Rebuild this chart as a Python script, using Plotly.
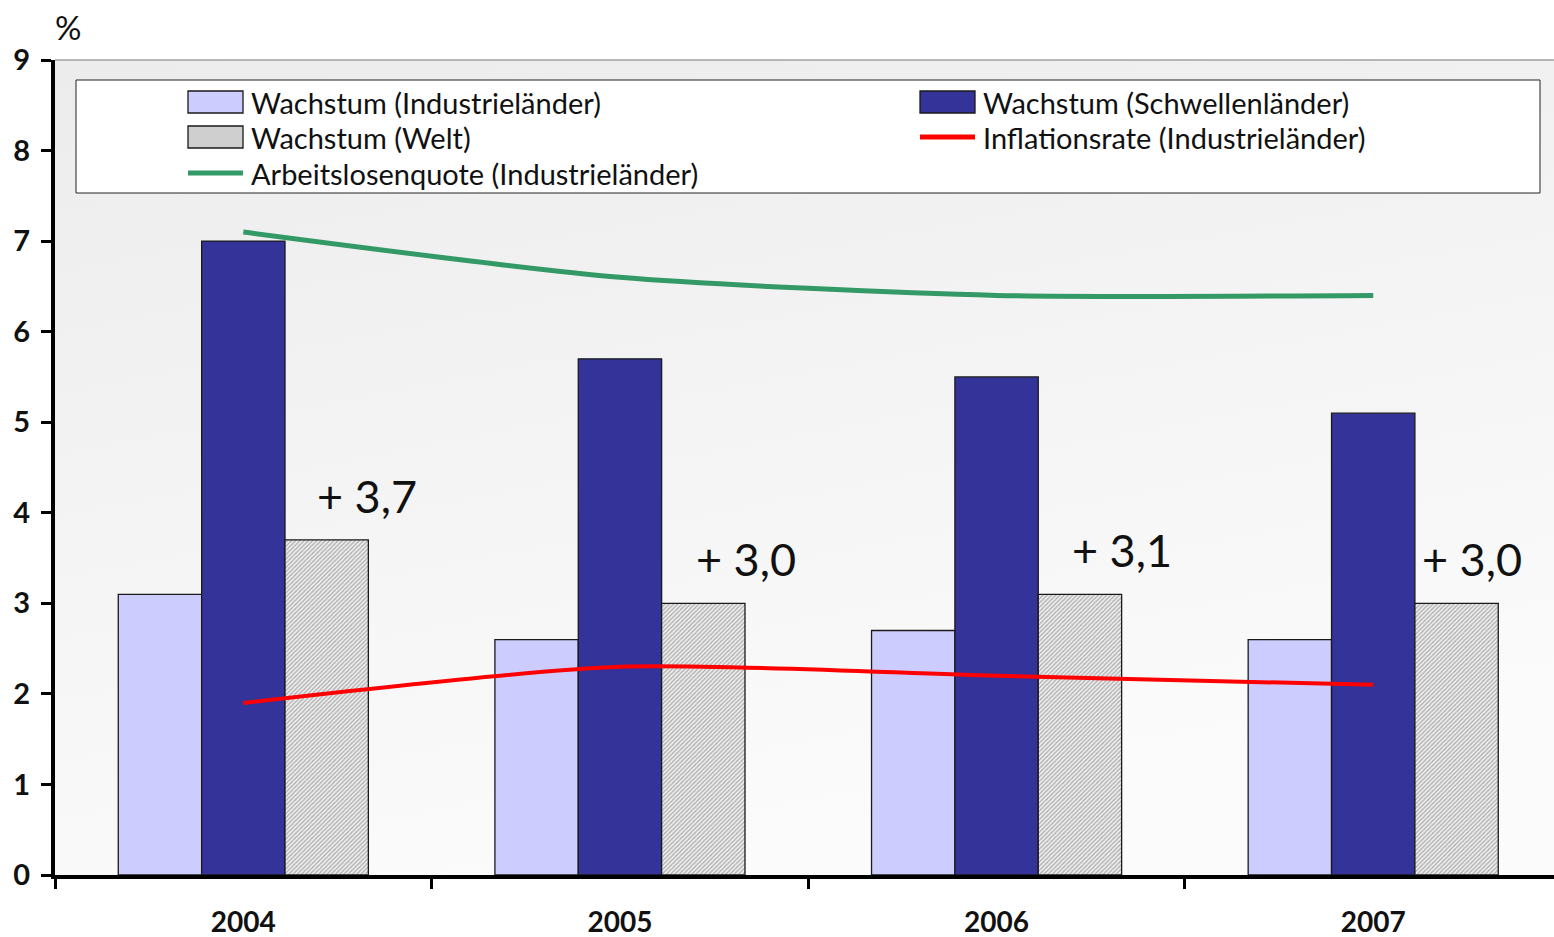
import base64
import plotly.graph_objects as go

years = ["2004", "2005", "2006", "2007"]
wachstum_industrie = [3.1, 2.6, 2.7, 2.6]
wachstum_schwellen = [7.0, 5.7, 5.5, 5.1]
wachstum_welt = [3.7, 3.0, 3.1, 3.0]
inflation_industrie = [1.9, 2.3, 2.2, 2.1]
arbeitslosen_industrie = [7.1, 6.6, 6.4, 6.4]
welt_labels = ["+ 3,7", "+ 3,0", "+ 3,1", "+ 3,0"]
y_ticks = [0, 1, 2, 3, 4, 5, 6, 7, 8, 9]

names = {
    "ind": "Wachstum (Industrieländer)",
    "sch": "Wachstum (Schwellenländer)",
    "welt": "Wachstum (Welt)",
    "inf": "Inflationsrate (Industrieländer)",
    "arb": "Arbeitslosenquote (Industrieländer)",
}

FONT = "Lato, 'Open Sans', sans-serif"
W, H = 1554, 937
ML, MR, MT, MB = 55, 0, 60, 62
PW, PH = W - ML - MR, H - MT - MB

def px_x(p):
    return (p - ML) / PW

def px_y(p):
    return (H - MB - p) / PH

fig = go.Figure()
edge = dict(color="#1a1a1a", width=1.3)
fig.add_trace(go.Bar(x=years, y=wachstum_industrie, name=names["ind"],
                     marker=dict(color="#ccccff", line=edge), showlegend=False))
fig.add_trace(go.Bar(x=years, y=wachstum_schwellen, name=names["sch"],
                     marker=dict(color="#333399", line=edge), showlegend=False))
fig.add_trace(go.Bar(x=years, y=wachstum_welt, name=names["welt"],
                     marker=dict(color="#ffffff", line=edge,
                                 pattern=dict(shape="/", fgcolor="#6e6e6e", bgcolor="#f0f0f0",
                                              size=3, solidity=0.45)),
                     showlegend=False))
fig.add_trace(go.Scatter(x=years, y=inflation_industrie, name=names["inf"], mode="lines",
                         line=dict(color="#ff0000", width=4, shape="spline", smoothing=0.7),
                         showlegend=False))
fig.add_trace(go.Scatter(x=years, y=arbeitslosen_industrie, name=names["arb"], mode="lines",
                         line=dict(color="#339966", width=5, shape="spline", smoothing=0.7),
                         showlegend=False))

# value labels for world growth
xshifts = [124, 126, 125, 99]
annotations = []
for i, (v, lab, xs) in enumerate(zip(wachstum_welt, welt_labels, xshifts)):
    annotations.append(dict(x=i, y=v, xref="x", yref="y", text=lab, showarrow=False,
                            xshift=xs, yshift=44, xanchor="center", yanchor="middle",
                            font=dict(family=FONT, size=45, color="#111111")))

# percent sign
annotations.append(dict(x=px_x(68), y=px_y(27), xref="paper", yref="paper", text="%",
                        showarrow=False, xanchor="center", yanchor="middle",
                        font=dict(family=FONT, size=33, color="#111111")))

# custom legend
shapes = []
shapes.append(dict(type="rect", xref="paper", yref="paper", x0=px_x(76), x1=px_x(1540),
                   y0=px_y(193), y1=px_y(80), fillcolor="#ffffff",
                   line=dict(color="#222222", width=1), layer="above"))
# top border of plot area
shapes.append(dict(type="line", xref="paper", yref="paper", x0=0, x1=1, y0=1, y1=1,
                   line=dict(color="#a0a0a0", width=1.5)))

legend_items = [
    ("ind", 188, 102, "rect", "#ccccff"),
    ("sch", 920, 102, "rect", "#333399"),
    ("welt", 188, 137, "rect", "#cfcfcf"),
    ("inf", 920, 137, "line", "#ff0000"),
    ("arb", 188, 173, "line", "#339966"),
]
for key, sx, sy, kind, col in legend_items:
    if kind == "rect":
        shapes.append(dict(type="rect", xref="paper", yref="paper", x0=px_x(sx), x1=px_x(sx + 55),
                           y0=px_y(sy + 11), y1=px_y(sy - 11), fillcolor=col,
                           line=dict(color="#1a1a1a", width=1.3), layer="above"))
    else:
        shapes.append(dict(type="line", xref="paper", yref="paper", x0=px_x(sx), x1=px_x(sx + 55),
                           y0=px_y(sy), y1=px_y(sy), line=dict(color=col, width=5), layer="above"))
    annotations.append(dict(x=px_x(sx + 61), y=px_y(sy), xref="paper", yref="paper",
                            text=names[key], showarrow=False, xanchor="left", yanchor="middle",
                            font=dict(family=FONT, size=29, color="#111111")))

svg = ('<svg xmlns="http://www.w3.org/2000/svg" width="100" height="100" preserveAspectRatio="none">'
       '<defs><linearGradient id="g" x1="0" y1="0" x2="0.35" y2="1">'
       '<stop offset="0" stop-color="#ececec"/><stop offset="1" stop-color="#fbfbfb"/>'
       '</linearGradient></defs><rect width="100" height="100" fill="url(#g)"/></svg>')
bg_src = "data:image/svg+xml;base64," + base64.b64encode(svg.encode()).decode()

fig.update_layout(
    width=W, height=H,
    margin=dict(l=ML, r=MR, t=MT, b=MB, autoexpand=False),
    paper_bgcolor="#ffffff",
    plot_bgcolor="#f4f4f4",
    barmode="group",
    bargap=0.336,
    bargroupgap=0,
    showlegend=False,
    font=dict(family=FONT, color="#111111"),
    images=[dict(source=bg_src, xref="paper", yref="paper", x=0, y=1, sizex=1, sizey=1,
                 sizing="stretch", xanchor="left", yanchor="top", layer="below")],
    shapes=shapes,
    annotations=annotations,
    xaxis=dict(type="category", range=[-0.5, 3.48], tickson="boundaries", automargin=False,
               ticks="outside", ticklen=10, tickwidth=3, tickcolor="#000000",
               showline=True, linewidth=4, linecolor="#000000", showgrid=False,
               tickfont=dict(family=FONT, size=28, color="#111111", weight="bold"),
               ticklabelstandoff=19),
    yaxis=dict(range=[0, 9], tickvals=y_ticks, ticks="outside", ticklen=10, tickwidth=3,
               automargin=False,
               tickcolor="#000000", showline=True, linewidth=4, linecolor="#000000",
               showgrid=False, zeroline=False,
               tickfont=dict(family=FONT, size=29, color="#111111", weight="bold"),
               ticklabelstandoff=5),
)

fig.write_html("out.html", post_script="document.body.style.margin='0';",
               config={"displayModeBar": False})
